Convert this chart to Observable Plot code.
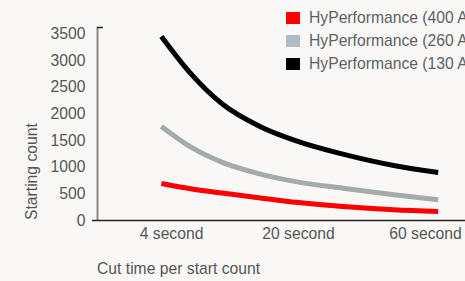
<!DOCTYPE html>
<html><head><meta charset="utf-8">
<script src="https://cdn.jsdelivr.net/npm/d3@7"></script>
<script src="https://cdn.jsdelivr.net/npm/@observablehq/plot@0.6"></script>
<style>
html,body{margin:0;padding:0;background:#f9f8f6;}
#wrap{position:relative;width:465px;height:281px;overflow:hidden;font-family:"Liberation Sans",Arial,sans-serif;}
#legend{position:absolute;left:286px;top:6px;}
.item{display:flex;align-items:center;height:23.3px;white-space:nowrap;font-size:15.7px;color:#5d6166;}
.sw{width:14px;height:12px;margin-right:9px;flex:none;}
</style></head>
<body><div id="wrap"><div id="legend"></div></div>
<script>
// Series
const seriesNames = ["HyPerformance (400 A)", "HyPerformance (260 A)", "HyPerformance (130 A)"];
const lineColors = ["#ff0000", "#a4abab", "#000000"];
const legendColors = ["#ff0000", "#b0bcc4", "#000000"];
// sample positions along the x axis (0 = 4 s, 1 = 20 s, 2 = 60 s)
const xPos = [-0.08, 0.15, 0.4, 0.7, 1.0, 1.35, 1.75, 2.1];
const valuesRed   = [695, 597, 515, 422, 337, 262, 201, 169];
const valuesGray  = [1764, 1380, 1090, 870, 720, 605, 482, 388];
const valuesBlack = [3453, 2760, 2185, 1760, 1480, 1245, 1032, 901];
// Axis ticks
const xTickPos = [0, 1, 2];
const xTickLabels = ["4 second", "20 second", "60 second"];
const yTicks = [0, 500, 1000, 1500, 2000, 2500, 3000, 3500];
const xTitle = "Cut time per start count";
const yTitle = "Starting count";

const seriesValues = [valuesRed, valuesGray, valuesBlack];
const rows = [];
seriesNames.forEach((name, i) => {
  xPos.forEach((x, j) => rows.push({series: name, x, y: seriesValues[i][j]}));
});

const xMin = -0.583, xMax = 2.315, yMax = 3620;
const plot = Plot.plot({
  width: 465,
  height: 281,
  marginLeft: 97,
  marginRight: 0,
  marginTop: 27,
  marginBottom: 61,
  style: {background: "transparent", fontFamily: "'Liberation Sans', Arial, sans-serif", fontSize: "15.7px", color: "#555"},
  x: {domain: [xMin, xMax], ticks: xTickPos, tickFormat: (d, i) => xTickLabels[i], tickSize: 0, tickPadding: 7, label: null},
  y: {domain: [0, yMax], ticks: yTicks, tickFormat: d3.format("d"), tickSize: 0, tickPadding: 12, label: null},
  color: {domain: seriesNames, range: lineColors},
  marks: [
    Plot.ruleX([xMin], {stroke: "#888", strokeWidth: 2}),
    Plot.ruleY([yMax], {x1: xMin, x2: xMin + 0.047, stroke: "#222", strokeWidth: 1.5}),
    Plot.line(rows, {x: "x", y: "y", z: "series", stroke: "series", strokeWidth: 5, curve: "monotone-x", strokeLinecap: "butt"}),
    Plot.ruleY([0], {x1: xMin - 0.04, x2: xMax, stroke: "#222", strokeWidth: 1.5, clip: false})
  ]
});
document.getElementById("wrap").appendChild(plot);
plot.style.position = "absolute";
plot.style.left = "0";
plot.style.top = "0";

const svg = d3.select(plot);
svg.append("text").attr("x", 97).attr("y", 274).attr("text-anchor", "start")
  .attr("font-size", "15.7px").attr("fill", "#555").text(xTitle);
svg.append("text").attr("transform", "translate(37,220) rotate(-90)")
  .attr("font-size", "15.7px").attr("fill", "#555").attr("text-anchor", "start").text(yTitle);

const legend = document.getElementById("legend");
seriesNames.forEach((name, i) => {
  const it = document.createElement("div");
  it.className = "item";
  const sw = document.createElement("div");
  sw.className = "sw";
  sw.style.background = legendColors[i];
  const tx = document.createElement("span");
  tx.textContent = name;
  it.appendChild(sw); it.appendChild(tx);
  legend.appendChild(it);
});
</script>
</body></html>
